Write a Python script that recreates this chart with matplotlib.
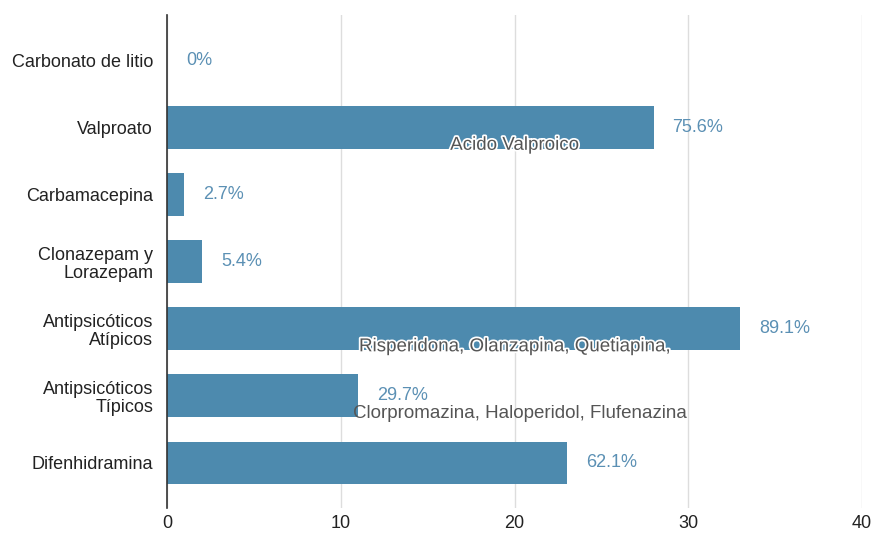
import matplotlib.pyplot as plt
import matplotlib.patheffects as pe

plt.rcParams["font.family"] = ["Liberation Sans", "DejaVu Sans"]

categories = [
    "Carbonato de litio",
    "Valproato",
    "Carbamacepina",
    "Clonazepam y\nLorazepam",
    "Antipsicóticos\nAtípicos",
    "Antipsicóticos\nTípicos",
    "Difenhidramina",
]
counts = [0, 28, 1, 2, 33, 11, 23]
pct_labels = ["0%", "75.6%", "2.7%", "5.4%", "89.1%", "29.7%", "62.1%"]

# drug names written under some of the bars
notes = {
    1: "Acido Valproico",
    4: "Risperidona, Olanzapina, Quetiapina,",
    5: "Clorpromazina, Haloperidol, Flufenazina",
}

bar_color = "#4d8aae"
pct_color = "#5b90b4"

fig = plt.figure(figsize=(8.77, 5.33), dpi=100)
ax = fig.add_axes([167 / 877, 25 / 533, (862 - 167) / 877, (518 - 25) / 533])

y = list(range(len(categories)))
ax.barh(y, counts, height=0.64, color=bar_color, zorder=2)

for i, (v, lab) in enumerate(zip(counts, pct_labels)):
    ax.text(v + 1.1, i, lab, va="center", ha="left", fontsize=13, color=pct_color, zorder=4)

for i, txt in notes.items():
    t = ax.text(20.0 if i != 5 else 20.3, i + 0.27, txt, va="center", ha="center",
                fontsize=13.5, color="#555555", zorder=5)
    if i != 5:
        t.set_path_effects([pe.withStroke(linewidth=2.5, foreground="white")])

ax.set_xlim(0, 40)
ax.set_ylim(6.67, -0.67)
ax.set_xticks([0, 10, 20, 30, 40])
ax.set_yticks(y)
ax.set_yticklabels(categories, fontsize=13, linespacing=1.12, color="#222222")
ax.tick_params(axis="x", labelsize=13, length=0, pad=5, labelcolor="#222222")
ax.tick_params(axis="y", length=0, pad=10)
ax.grid(axis="x", color="#dddddd", linewidth=1, zorder=0)

for s in ["top", "right", "bottom"]:
    ax.spines[s].set_visible(False)
ax.spines["left"].set_color("#333333")
ax.spines["left"].set_linewidth(1.2)
ax.spines["left"].set_zorder(3)

fig.savefig("out.png", dpi=100)
